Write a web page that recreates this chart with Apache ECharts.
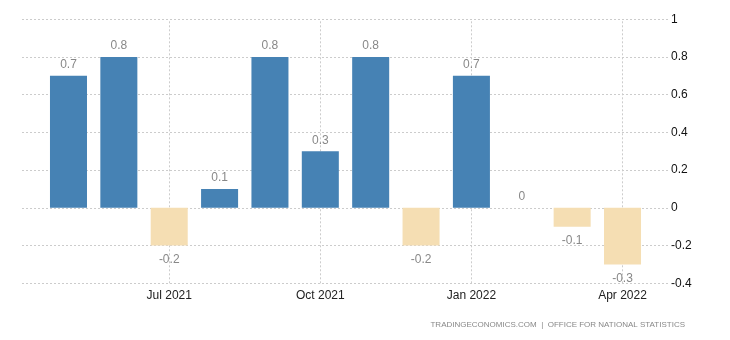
<!DOCTYPE html>
<html>
<head>
<meta charset="utf-8">
<script src="https://cdn.jsdelivr.net/npm/echarts@6/dist/echarts.min.js"></script>
<style>
html,body{margin:0;padding:0;background:#fff;}
#c{width:730px;height:340px;}
</style>
</head>
<body>
<div id="c"></div>
<script>
const categories = ['May 2021','Jun 2021','Jul 2021','Aug 2021','Sep 2021','Oct 2021','Nov 2021','Dec 2021','Jan 2022','Feb 2022','Mar 2022','Apr 2022'];
const values = [0.7, 0.8, -0.2, 0.1, 0.8, 0.3, 0.8, -0.2, 0.7, 0, -0.1, -0.3];
const labeledMonths = ['Jul 2021', 'Oct 2021', 'Jan 2022', 'Apr 2022'];
const yMin = -0.4, yMax = 1, yStep = 0.2;
const footer = 'TRADINGECONOMICS.COM  |  OFFICE FOR NATIONAL STATISTICS';

const FONT = '"Liberation Sans", Arial, sans-serif';

const data = values.map(v => ({
  value: v,
  itemStyle: { color: v > 0 ? '#4682b4' : '#f5deb3' },
  label: v < 0 ? { position: 'bottom', distance: 8 } : { position: 'top', distance: 5 }
}));

const chart = echarts.init(document.getElementById('c'), null, { renderer: 'canvas' });
chart.setOption({
  animation: false,
  backgroundColor: '#fff',
  grid: [
    { left: 22, right: 61, top: 19.3, bottom: 56.7 },
    { left: 43.3, right: 82.3, top: 19.3, bottom: 56.7 }
  ],
  xAxis: [
    { gridIndex: 0, type: 'value', show: false, min: 0, max: 1 },
    {
      gridIndex: 1, type: 'category', data: categories,
      axisLine: { show: false }, axisTick: { show: false },
      axisLabel: { interval: (i, name) => labeledMonths.indexOf(name) >= 0, color: '#222', fontSize: 12, fontFamily: FONT, margin: 6 },
      splitLine: { show: false }
    }
  ],
  yAxis: [
    {
      gridIndex: 0, type: 'value', position: 'right', min: yMin, max: yMax, interval: yStep,
      axisLine: { show: false }, axisTick: { show: false },
      axisLabel: { color: '#111', fontSize: 12, fontFamily: FONT, margin: 2,
        formatter: (v) => String(Math.round(v * 10) / 10) },
      splitLine: { show: true, lineStyle: { color: '#cccccc', type: [2, 2], width: 1 } }
    },
    { gridIndex: 1, type: 'value', min: yMin, max: yMax, interval: yStep, show: false, splitLine: { show: false } }
  ],
  series: [{
    type: 'bar', xAxisIndex: 1, yAxisIndex: 1,
    data: data,
    barWidth: '73.5%',
    z: 2,
    label: { show: true, color: '#888', fontSize: 12, fontFamily: FONT,
      formatter: (p) => String(p.value) },
    markLine: {
      silent: true, symbol: 'none', z: 1,
      label: { show: false },
      lineStyle: { color: '#cccccc', type: [2, 2], width: 1 },
      emphasis: { disabled: true },
      data: labeledMonths.map(m => ({ xAxis: m }))
    }
  }],
  graphic: [{
    type: 'text', right: 45, top: 321,
    style: { text: footer, fill: '#888', font: '8px "Liberation Sans", Arial, sans-serif' }
  }]
});
</script>
</body>
</html>
